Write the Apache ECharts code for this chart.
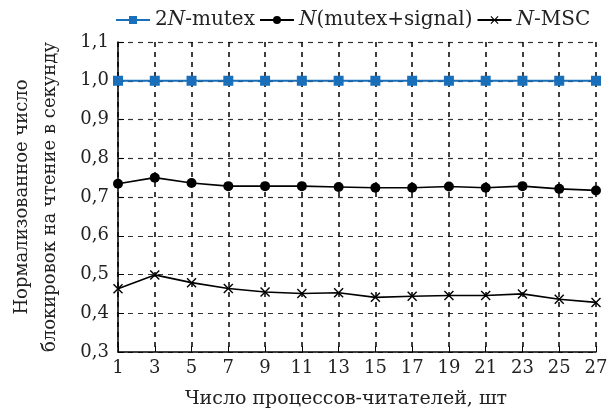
<!DOCTYPE html>
<html>
<head>
    <meta charset="utf-8">
    <title>chart</title>
    <script src="https://cdn.jsdelivr.net/npm/echarts@6/dist/echarts.min.js"></script>
    <style>
        html, body { margin: 0; padding: 0; background: #fff; }
        #chart { width: 609px; height: 413px; }
    </style>
</head>
<body>
<div id="chart"></div>
<script type="text/javascript">
    // процессы-читатели
    var readers = ['1', '3', '5', '7', '9', '11', '13', '15', '17', '19', '21', '23', '25', '27'];
    var mutex2N = [1.0, 1.0, 1.0, 1.0, 1.0, 1.0, 1.0, 1.0, 1.0, 1.0, 1.0, 1.0, 1.0, 1.0];
    var mutexSignal = [0.734, 0.750, 0.736, 0.728, 0.728, 0.728, 0.726, 0.724, 0.724, 0.727, 0.724, 0.728, 0.721, 0.717];
    var msc = [0.463, 0.499, 0.479, 0.464, 0.455, 0.451, 0.453, 0.441, 0.444, 0.446, 0.446, 0.450, 0.436, 0.428];

    var font = 'DejaVu Serif';
    var txt = '#222';
    var crossSymbol = 'path://M0,1L1,0L5,4L9,0L10,1L6,5L10,9L9,10L5,6L1,10L0,9L4,5Z';

    var myChart = echarts.init(document.getElementById('chart'));
    var option = {
        backgroundColor: '#fff',
        textStyle: { fontFamily: font },
        legend: {
            top: 5,
            left: 110,
            itemWidth: 34,
            itemHeight: 10,
            itemGap: 4,
            textStyle: {
                fontFamily: font, fontSize: 20, color: txt,
                rich: { i: { fontFamily: font, fontSize: 20, fontStyle: 'italic', color: txt } }
            },
            formatter: function (name) {
                if (name == '2N-mutex') return '2{i|N}-mutex';
                if (name == 'N(mutex+signal)') return '{i|N}(mutex+signal)';
                return '{i|N}-MSC';
            },
            data: ['2N-mutex', 'N(mutex+signal)', 'N-MSC']
        },
        grid: { left: 118, right: 13, top: 42, bottom: 61, outerBoundsMode: 'none', containLabel: false },
        xAxis: {
            type: 'category',
            boundaryGap: false,
            data: readers,
            name: 'Число процессов-читателей, шт',
            nameLocation: 'middle',
            nameGap: 38,
            nameTextStyle: { fontFamily: font, fontSize: 19, color: txt, padding: [0, 22, 0, 0] },
            axisLine: { lineStyle: { color: '#000', width: 1.5 } },
            axisTick: { inside: true, length: 6, lineStyle: { color: '#000' } },
            axisLabel: { fontFamily: font, fontSize: 18, color: txt, margin: 7 },
            splitLine: { show: true, lineStyle: { color: '#000', type: [5, 5], width: 1.5 } }
        },
        yAxis: {
            type: 'value',
            min: 0.3,
            max: 1.1,
            interval: 0.1,
            name: 'Нормализованное число\nблокировок на чтение в секунду',
            nameLocation: 'middle',
            nameRotate: 90,
            nameGap: 54,
            nameTextStyle: { fontFamily: font, fontSize: 18, color: txt, lineHeight: 28, align: 'center' },
            axisLine: { show: true, lineStyle: { color: '#000', width: 1.5 } },
            axisTick: { show: true, inside: true, length: 6, lineStyle: { color: '#000' } },
            axisLabel: {
                fontFamily: font, fontSize: 18, color: txt, margin: 9,
                formatter: function (v) { return v.toFixed(1).replace('.', ','); }
            },
            splitLine: { show: true, lineStyle: { color: '#333', type: [5, 5], width: 1.2 } }
        },
        series: [
            {
                name: '2N-mutex',
                type: 'line',
                data: mutex2N,
                symbol: 'rect',
                symbolSize: 10,
                color: '#1a6fba',
                lineStyle: { width: 2, color: '#1a6fba' },
                itemStyle: { color: '#1a6fba' },
                z: 5
            },
            {
                name: 'N(mutex+signal)',
                type: 'line',
                data: mutexSignal,
                symbol: 'circle',
                symbolSize: 10,
                color: '#000',
                lineStyle: { width: 1.6, color: '#000' },
                itemStyle: { color: '#000' },
                z: 4
            },
            {
                name: 'N-MSC',
                type: 'line',
                data: msc,
                symbol: crossSymbol,
                symbolSize: 10,
                color: '#000',
                lineStyle: { width: 1.6, color: '#000' },
                itemStyle: { color: '#000' },
                z: 3
            }
        ]
    };
    myChart.setOption(option);
</script>
</body>
</html>
